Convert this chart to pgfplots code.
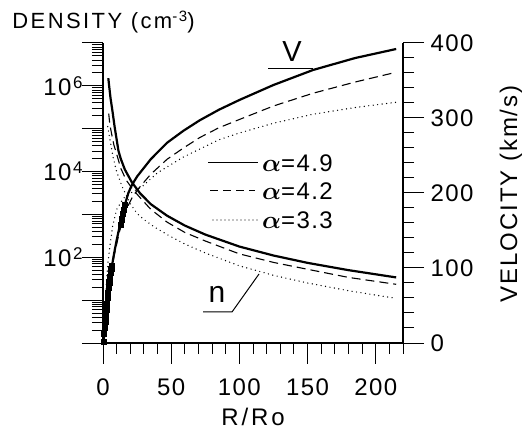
\documentclass[border=0pt]{standalone}
\usepackage{amsmath}
\usepackage{fontspec}
\setmainfont{Liberation Sans}
\usepackage{pgfplots}
\pgfplotsset{compat=1.18}

\newcommand\sups[1]{\hspace{1.5pt}\raisebox{7pt}{\fontsize{17}{17}\selectfont #1}}
\newcommand\tickfont{\fontsize{24}{24}\selectfont\addfontfeature{LetterSpace=6}}

\tikzset{
  solidc/.style={line width=2.2pt, black},
  dashc/.style={line width=1.1pt, black, dash pattern=on 9pt off 5pt},
  dotc/.style={line width=1.4pt, black, line cap=round, dash pattern=on 0pt off 4.5pt},
}

\begin{document}
\begin{tikzpicture}[x=1pt,y=1pt]
\useasboundingbox (-103,-93) rectangle (424,343);

% density, left log axis
\begin{axis}[
  at={(0,0)}, anchor=south west, scale only axis,
  width=300pt, height=300pt,
  xmin=0, xmax=220, ymode=log, ymin=1, ymax=1e7,
  axis x line*=bottom, axis y line*=left,
  axis line style={-, line width=1.1pt},
  xtick={0,50,100,150,200},
  minor xtick={10,20,30,40,60,70,80,90,110,120,130,140,160,170,180,190,210,220},
  ytick={1,10,100,1000,10000,100000,1000000,10000000},
  yticklabels={,,10\sups{2},,10\sups{4},,10\sups{6},},
  minor ytick={2,3,4,5,6,7,8,9,20,30,40,50,60,70,80,90,
    200,300,400,500,600,700,800,900,2000,3000,4000,5000,6000,7000,8000,9000,
    2e4,3e4,4e4,5e4,6e4,7e4,8e4,9e4,2e5,3e5,4e5,5e5,6e5,7e5,8e5,9e5,
    2e6,3e6,4e6,5e6,6e6,7e6,8e6,9e6},
  tick align=outside, major tick length=21pt, minor tick length=11pt,
  every tick/.style={line width=1pt, black},
  /pgf/number format/assume math mode=true,
  tick label style={font=\tickfont},
  xticklabel style={yshift=-11pt},
  yticklabel style={xshift=4pt},
]
\addplot[solidc] coordinates {
  (3.9,1.51e6)(4.5,1.00e6)(5.5,5.25e5)(6.9,2.63e5)(8.5,1.12e5)(10,5.62e4)
  (11.3,3.09e4)(13,2.00e4)(16,1.12e4)(21,5.75e3)(27,3.16e3)(35,1.74e3)
  (47,933)(60,550)(75,339)(100,178)(125,110)(150,74.1)(180,50.1)(215,33.9)};
\addplot[dashc] coordinates {
  (4.2,2.24e5)(5,1.26e5)(6.5,7.08e4)(8,4.17e4)(10,2.57e4)(13,1.20e4)
  (17,6.31e3)(22,3.80e3)(27,2.51e3)(35,1.32e3)(47,661)(60,380)(75,240)
  (100,120)(125,75.9)(150,52.5)(180,33.9)(215,23.4)};
\addplot[dotc] coordinates {
  (3.5,1.12e5)(4.5,7.08e4)(5.5,4.79e4)(7.6,2.00e4)(10,1.00e4)(14,4.47e3)
  (20,1.78e3)(25,1.05e3)(30,759)(38,501)(47,339)(60,204)(75,126)(100,63.1)
  (125,38.0)(150,25.1)(180,16.6)(215,11.0)};
\end{axis}

% velocity, right linear axis
\begin{axis}[
  at={(0,0)}, anchor=south west, scale only axis,
  width=300pt, height=300pt,
  xmin=0, xmax=220, ymin=0, ymax=400,
  axis x line=none, axis y line*=right,
  axis line style={-, line width=1.1pt},
  ytick={0,100,200,300,400},
  minor ytick={20,40,60,80,120,140,160,180,220,240,260,280,320,340,360,380},
  tick align=outside, major tick length=21pt, minor tick length=11pt,
  every tick/.style={line width=1pt, black},
  /pgf/number format/assume math mode=true,
  tick label style={font=\tickfont},
  yticklabel style={xshift=3pt},
]
\addplot[solidc] coordinates {
  (0.3,0)(1,12)(2,35)(3,55)(4,72)(5,86)(6.4,101)(8,118)(10,137)(12.5,158)
  (15,178)(18.6,200)(21,210)(25,222)(35,245)(47,267)(59,283)(71,297)(85,311)
  (100,324)(125,344)(154,364)(185,380)(215,392)};
\addplot[dashc] coordinates {
  (0.5,0)(2,30)(3.5,60)(5,82)(8,115)(12,148)(17,178)(22,196)(27,208)(35,225)
  (47,245)(59,260)(71,274)(85,287)(100,298)(125,316)(154,333)(185,348)(215,361)};
\addplot[dotc] coordinates {
  (0.5,0)(1.5,45)(2.5,80)(3.5,105)(5,128)(7,155)(10,178)(15,193)(22,202)
  (29,209)(40,227)(59,248)(85,271)(100,280)(125,293)(154,305)(185,314)(215,321)};
% observed velocities
\addplot[only marks, mark=square*, mark size=2.6pt, black] coordinates {
  (0.5,2)(0.8,12)(1.2,20)(1.6,28)(2.0,36)(2.4,44)(2.8,52)(3.2,60)(3.6,67)
  (4.0,74)(4.5,81)(5.0,88)(5.5,94)(6.0,99)(6.4,103)
  (12.8,158)(13.5,165)(14.2,172)(15,178)(15.8,184)};
\end{axis}

% labels
\node[font=\fontsize{22}{22}\selectfont\addfontfeature{LetterSpace=11}] at (0.5,321)
  {DENSITY (cm\raisebox{7pt}{\fontsize{15}{15}\selectfont -3})};
\node[rotate=90, font=\fontsize{24}{24}\selectfont\addfontfeature{LetterSpace=8}] at (408,149)
  {VELOCITY (km/s)};
\node[font=\fontsize{24}{24}\selectfont\addfontfeature{LetterSpace=12}] at (150,-74) {R/Ro};

\node[font=\fontsize{29}{29}\selectfont] at (189,291) {V};
\draw[line width=1pt] (165,274) -- (210,274);
\node[font=\fontsize{30}{30}\selectfont] at (114,49) {n};
\draw[line width=1pt] (100,31) -- (129,31) -- (156,69);

% legend
\draw[line width=1pt] (105,180) -- (155,180);
\draw[line width=1pt, dash pattern=on 8pt off 5pt] (107,152) -- (152,152);
\draw[line width=1.2pt, line cap=round, dash pattern=on 0pt off 4pt] (110,123) -- (155,123);
\begin{scope}[every node/.style={anchor=west, inner sep=0pt,
   font=\fontsize{24}{24}\selectfont\addfontfeature{LetterSpace=6}}]
\node at (159,180) {$\boldsymbol{\alpha}$=4.9};
\node at (159,152) {$\boldsymbol{\alpha}$=4.2};
\node at (159,123) {$\boldsymbol{\alpha}$=3.3};
\end{scope}
\end{tikzpicture}
\end{document}
